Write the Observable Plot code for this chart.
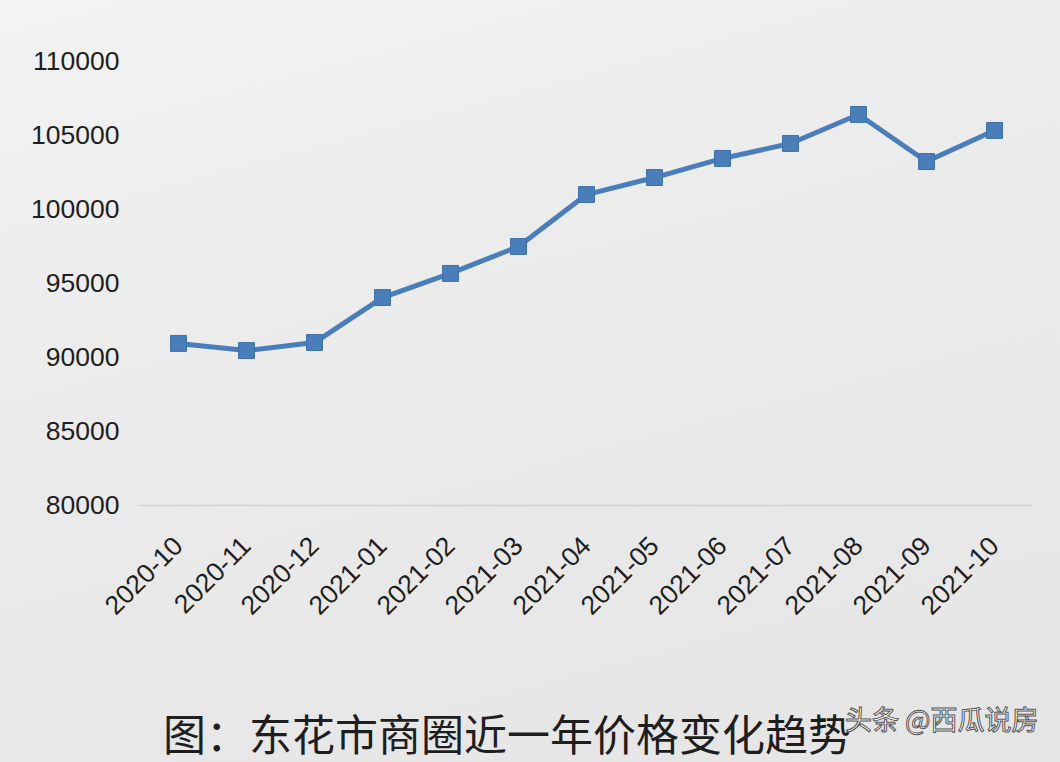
<!DOCTYPE html>
<html>
<head>
<meta charset="utf-8">
<script src="https://cdn.jsdelivr.net/npm/d3@7"></script>
<script src="https://cdn.jsdelivr.net/npm/@observablehq/plot@0.6"></script>
<style>
  html, body { margin: 0; padding: 0; }
  body {
    width: 1060px; height: 762px; overflow: hidden; position: relative;
    background: linear-gradient(165deg, #f3f3f3 0%, #ececed 35%, #e8e8e9 70%, #e5e5e6 100%);
    font-family: "Liberation Sans", Arial, sans-serif;
  }
  #chart svg { display: block; background: transparent; }
  #title {
    position: absolute; left: 163px; top: 706px;
    font-family: "Noto Sans CJK SC", sans-serif; font-size: 43px; line-height: 52px;
    color: #1e1e1e; white-space: nowrap;
  }
  #wm {
    position: absolute; left: 845px; top: 702px;
    font-family: "Noto Sans CJK SC", sans-serif; font-size: 27px; line-height: 34px;
    color: #ffffff; -webkit-text-stroke: 1px #555; white-space: nowrap;
  }
</style>
</head>
<body>
<div id="chart"></div>
<div id="title">图：东花市商圈近一年价格变化趋势</div>
<div id="wm">头条 @西瓜说房</div>
<script>
const months = ["2020-10","2020-11","2020-12","2021-01","2021-02","2021-03","2021-04","2021-05","2021-06","2021-07","2021-08","2021-09","2021-10"];
const prices = [90950, 90470, 91010, 94050, 95680, 97500, 101010, 102160, 103450, 104460, 106420, 103240, 105340];
const yTicks = [80000, 85000, 90000, 95000, 100000, 105000, 110000];

const data = months.map((m, i) => ({month: m, price: prices[i]}));

const chart = Plot.plot({
  width: 1060,
  height: 710,
  marginLeft: 139,
  marginRight: 28,
  marginTop: 61,
  marginBottom: 205,
  style: {background: "transparent", fontFamily: "Liberation Sans, Arial, sans-serif", fontSize: "26.5px", color: "#1e1e1e"},
  x: {type: "point", domain: months, padding: 0.5, label: null, tickSize: 0, tickPadding: 36, tickRotate: -45},
  y: {domain: [80000, 110000], ticks: yTicks, tickFormat: d => String(d), label: null, tickSize: 0, tickPadding: 20},
  marks: [
    Plot.ruleY([80000], {stroke: "#d2d2d2", strokeWidth: 1.5}),
    Plot.line(data, {x: "month", y: "price", stroke: "#4a7ebb", strokeWidth: 5}),
    Plot.dot(data, {x: "month", y: "price", symbol: "square", r: 9, fill: "#4a7ebb", stroke: "#3f72ad", strokeWidth: 1})
  ]
});
document.getElementById("chart").appendChild(chart);
</script>
</body>
</html>
